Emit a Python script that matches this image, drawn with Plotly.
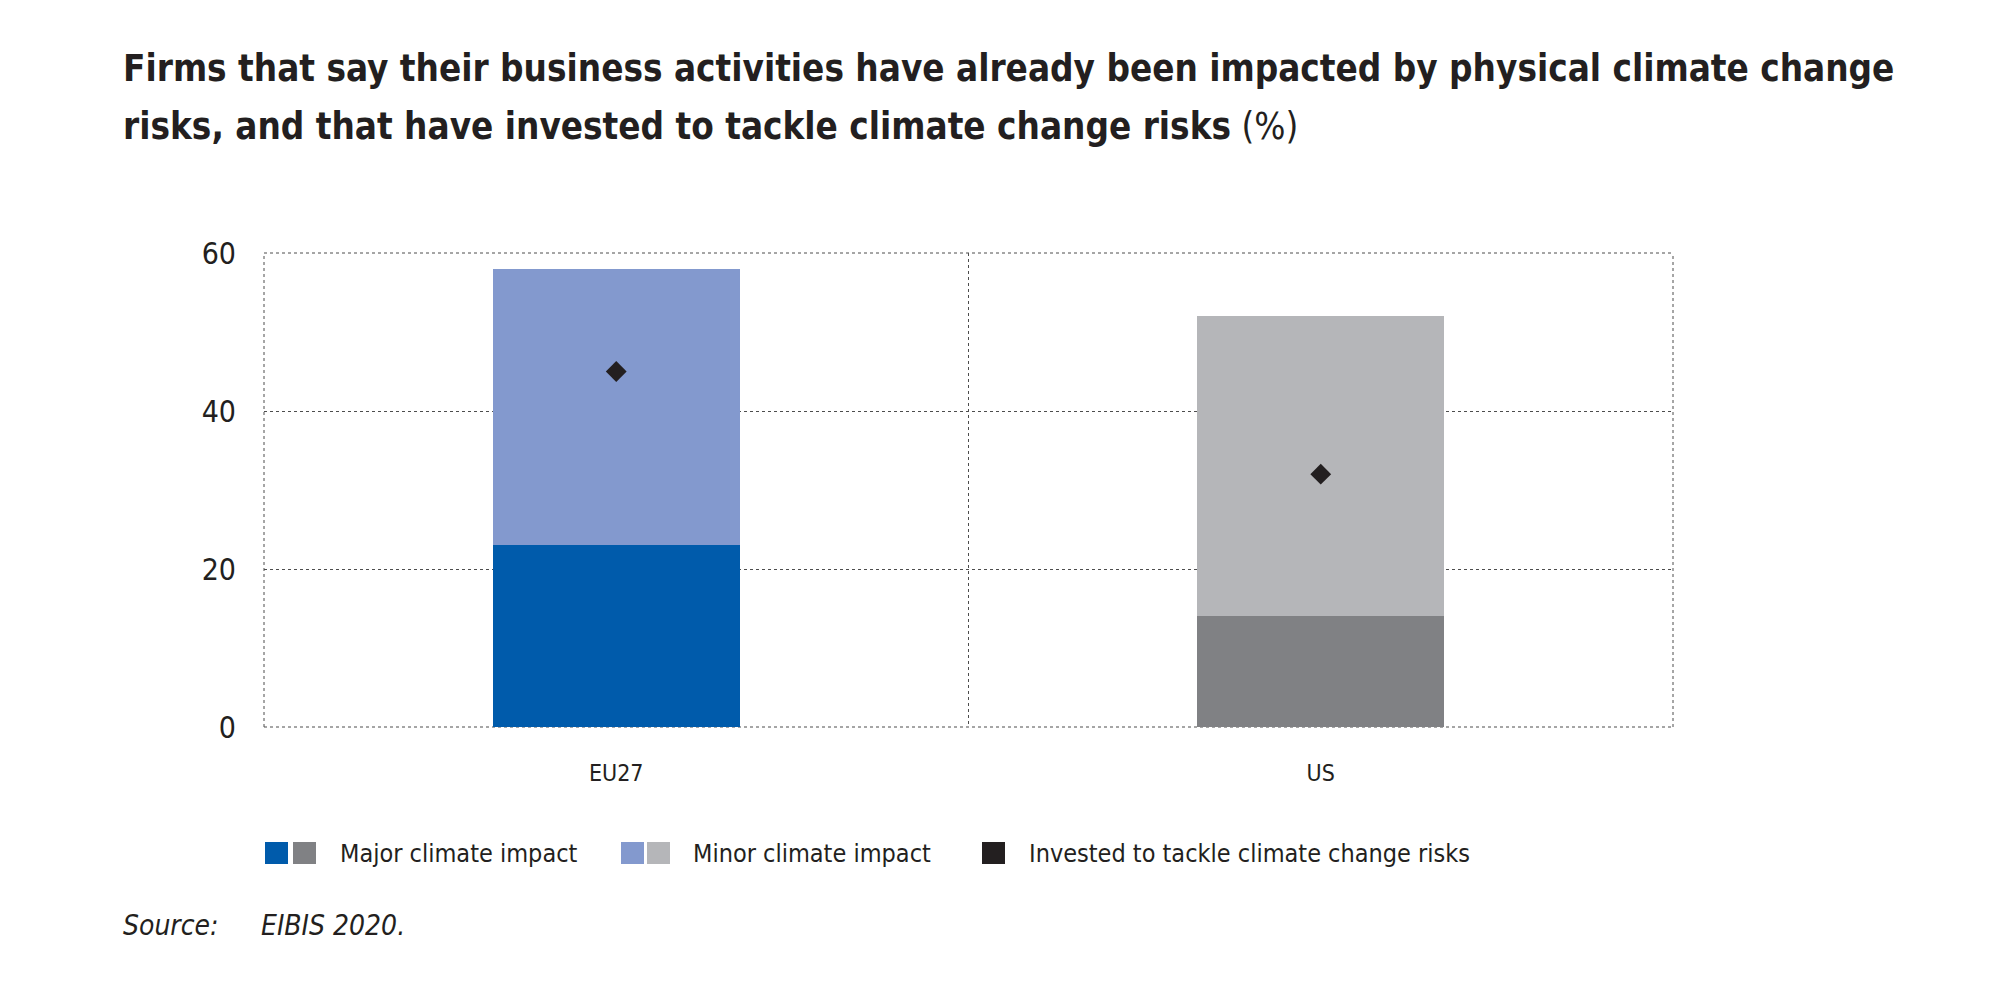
import plotly.graph_objects as go

# data (%)
regions = ["EU27", "US"]
major_impact = [23, 14]
minor_impact = [35, 38]
invested = [45, 32]

major_colors = ["#005BAB", "#808184"]
minor_colors = ["#8399CE", "#B5B6B9"]
diamond_color = "#231F20"

title_lines = [
    "<b>Firms that say their business activities have already been impacted by physical climate change</b>",
    "<b>risks, and that have invested to tackle climate change risks</b> (%)",
]

FONT = "DejaVu Sans Condensed, Liberation Sans Narrow, Arial Narrow, sans-serif"
TEXT = "#231F20"
GRID = "#4D4D4D"

# page body adds an 8px margin, so the figure is drawn 8px smaller
OFF = 8
W, H = 2000 - OFF, 982 - OFF
PLOT_L, PLOT_R, PLOT_T, PLOT_B = 264, 1673, 253, 727   # plot area on screen
L, R, T, B = PLOT_L - OFF, 2000 - PLOT_R, PLOT_T - OFF, 982 - PLOT_B


def px_x(x):
    return (x - PLOT_L) / (PLOT_R - PLOT_L)


def px_y(y):
    return (PLOT_B - y) / (PLOT_B - PLOT_T)


fig = go.Figure()
fig.add_trace(go.Bar(x=regions, y=major_impact, marker_color=major_colors,
                     marker_line_width=0, width=0.35, showlegend=False,
                     name="Major climate impact"))
fig.add_trace(go.Bar(x=regions, y=minor_impact, marker_color=minor_colors,
                     marker_line_width=0, width=0.35, showlegend=False,
                     name="Minor climate impact"))
fig.add_trace(go.Scatter(x=regions, y=invested, mode="markers",
                         marker=dict(symbol="diamond", size=16, color=diamond_color),
                         showlegend=False,
                         name="Invested to tackle climate change risks"))

fig.update_layout(
    width=W, height=H,
    barmode="stack",
    plot_bgcolor="white", paper_bgcolor="white",
    margin=dict(l=L, r=R, t=T, b=B),
    font=dict(family=FONT, color=TEXT),
)

# two-line title, placed line by line for the wider leading
for y, line in zip([68, 126], title_lines):
    fig.add_annotation(text=line, xref="paper", yref="paper", x=px_x(121), y=px_y(y),
                       xanchor="left", yanchor="middle", showarrow=False,
                       font=dict(size=36.5, color=TEXT))

fig.update_xaxes(
    range=[-0.5, 1.5], tickson="boundaries", ticks="",
    showgrid=True, gridcolor=GRID, griddash="dot", gridwidth=1,
    showline=False, zeroline=False,
    tickfont=dict(size=23, color=TEXT), ticklabelstandoff=30,
)
fig.update_yaxes(
    range=[0, 60], tickvals=[0, 20, 40, 60], ticks="",
    showgrid=True, gridcolor=GRID, griddash="dot", gridwidth=1,
    showline=False, zeroline=False,
    tickfont=dict(size=30, color=TEXT), ticklabelstandoff=27,
)

# dotted frame around the plot area
for x0, y0, x1, y1 in [(0, 0, 1, 0), (0, 1, 1, 1), (0, 0, 0, 1), (1, 0, 1, 1)]:
    fig.add_shape(type="line", xref="paper", yref="paper", x0=x0, y0=y0, x1=x1, y1=y1,
                  line=dict(color=GRID, width=1, dash="dot"), layer="below")

# legend drawn by hand (two-colour swatches)
legend_y0, legend_y1 = px_y(864), px_y(842)
swatches = [(265, 288, major_colors[0]), (293, 316, major_colors[1]),
            (621, 644, minor_colors[0]), (647, 670, minor_colors[1]),
            (982, 1005, diamond_color)]
for a, b, c in swatches:
    fig.add_shape(type="rect", xref="paper", yref="paper",
                  x0=px_x(a), x1=px_x(b), y0=legend_y0, y1=legend_y1,
                  fillcolor=c, line_width=0)
legend_labels = [(338, "Major climate impact"), (691, "Minor climate impact"),
                 (1027, "Invested to tackle climate change risks")]
for x, t in legend_labels:
    fig.add_annotation(text=t, xref="paper", yref="paper", x=px_x(x), y=px_y(853),
                       xanchor="left", yanchor="middle", showarrow=False,
                       font=dict(size=25, color=TEXT))

fig.add_annotation(text="<i>Source:</i>", xref="paper", yref="paper", x=px_x(121), y=px_y(925),
                   xanchor="left", yanchor="middle", showarrow=False, font=dict(size=28, color=TEXT))
fig.add_annotation(text="<i>EIBIS 2020.</i>", xref="paper", yref="paper", x=px_x(259), y=px_y(925),
                   xanchor="left", yanchor="middle", showarrow=False, font=dict(size=28, color=TEXT))

fig.write_html("out.html")
